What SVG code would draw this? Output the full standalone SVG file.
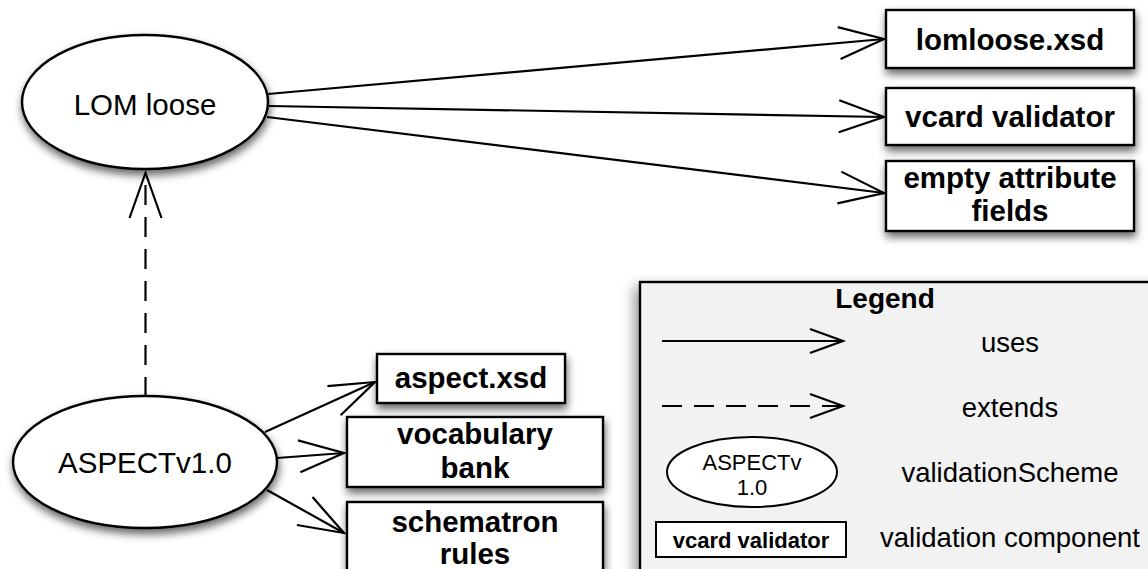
<svg xmlns="http://www.w3.org/2000/svg" width="1148" height="569" viewBox="0 0 1148 569">
<defs>
<filter id="sh" x="-20%" y="-20%" width="140%" height="150%">
<feDropShadow dx="1" dy="5" stdDeviation="4" flood-color="#000" flood-opacity="0.6"/>
</filter>
<filter id="shl" x="-10%" y="-10%" width="120%" height="130%">
<feDropShadow dx="-4" dy="6" stdDeviation="7" flood-color="#000" flood-opacity="0.45"/>
</filter>
<marker id="arr" markerUnits="userSpaceOnUse" orient="auto" refX="0" refY="0" markerWidth="60" markerHeight="40" overflow="visible">
<path d="M-45,-16 L0,0 L-45,16" fill="none" stroke="#000" stroke-width="2.2"/>
</marker>
<marker id="arrs" markerUnits="userSpaceOnUse" orient="auto" refX="0" refY="0" markerWidth="40" markerHeight="30" overflow="visible">
<path d="M-33,-12 L0,0 L-33,12" fill="none" stroke="#000" stroke-width="2.2"/>
</marker>
</defs>
<style>
.node{fill:#fff;stroke:#000;stroke-width:2.4;filter:url(#sh)}
.lbl{font-family:"Liberation Sans",Arial,sans-serif;font-size:29.5px;text-anchor:middle;fill:#000}
.b{font-weight:bold}
.leg{font-family:"Liberation Sans",Arial,sans-serif;font-size:27.5px;text-anchor:middle;fill:#000}
.sm{font-family:"Liberation Sans",Arial,sans-serif;font-size:22px;text-anchor:middle;fill:#000}
.edge{fill:none;stroke:#000;stroke-width:2.2}
</style>
<rect width="1148" height="569" fill="#fff"/>

<g id="connectors">
<path class="edge" d="M268,94 L884,39" marker-end="url(#arr)"/>
<path class="edge" d="M269,106 L884,117" marker-end="url(#arr)"/>
<path class="edge" d="M267,117 L884,193" marker-end="url(#arr)"/>
<path class="edge" d="M145.5,397 L145.5,173" stroke-dasharray="20 12" marker-end="url(#arr)"/>
<path class="edge" d="M265,432 L375,382" marker-end="url(#arr)"/>
<path class="edge" d="M277,458 L344,453" marker-end="url(#arr)"/>
<path class="edge" d="M267,490 L344,533" marker-end="url(#arr)"/>
</g>

<g id="lom-loose">
<ellipse class="node" cx="145" cy="102" rx="123" ry="67"/>
<text class="lbl" x="145" y="115">LOM loose</text>
</g>

<g id="aspect-v1">
<ellipse class="node" cx="145" cy="462" rx="132" ry="66"/>
<text class="lbl" x="145" y="473">ASPECTv1.0</text>
</g>

<g id="lomloose-xsd">
<rect class="node" x="886" y="10" width="248" height="58"/>
<text class="lbl b" x="1010" y="50">lomloose.xsd</text>
</g>

<g id="vcard-validator">
<rect class="node" x="886" y="88" width="248" height="57"/>
<text class="lbl b" x="1010" y="127">vcard validator</text>
</g>

<g id="empty-attribute-fields">
<rect class="node" x="886" y="161" width="248" height="70"/>
<text class="lbl b" x="1010" y="188">empty attribute</text>
<text class="lbl b" x="1010" y="221">fields</text>
</g>

<g id="aspect-xsd">
<rect class="node" x="377" y="354" width="188" height="49"/>
<text class="lbl b" x="471" y="388">aspect.xsd</text>
</g>

<g id="vocabulary-bank">
<rect class="node" x="347" y="417" width="256" height="70"/>
<text class="lbl b" x="475" y="444">vocabulary</text>
<text class="lbl b" x="475" y="478">bank</text>
</g>

<g id="schematron-rules">
<rect class="node" x="347" y="502" width="256" height="90"/>
<text class="lbl b" x="475" y="532">schematron</text>
<text class="lbl b" x="475" y="564">rules</text>
</g>

<g id="legend">
<rect x="640" y="282" width="530" height="310" fill="#f2f2f2" stroke="#000" stroke-width="2.4" filter="url(#shl)"/>
<text class="leg b" x="885" y="308" style="font-size:28px">Legend</text>
<path class="edge" d="M662,341 L843,341" marker-end="url(#arrs)"/>
<text class="leg" x="1010" y="352">uses</text>
<path class="edge" d="M662,406 L843,406" stroke-dasharray="20 12" marker-end="url(#arrs)"/>
<text class="leg" x="1010" y="417">extends</text>
<ellipse cx="752" cy="472" rx="85" ry="35" fill="#fff" stroke="#000" stroke-width="2"/>
<text class="sm" x="752" y="470">ASPECTv</text>
<text class="sm" x="752" y="495">1.0</text>
<text class="leg" x="1010" y="482">validationScheme</text>
<rect x="656" y="522" width="190" height="35" fill="#fff" stroke="#000" stroke-width="2"/>
<text class="sm b" x="751" y="548">vcard validator</text>
<text class="leg" x="1010" y="547">validation component</text>
</g>
</svg>
